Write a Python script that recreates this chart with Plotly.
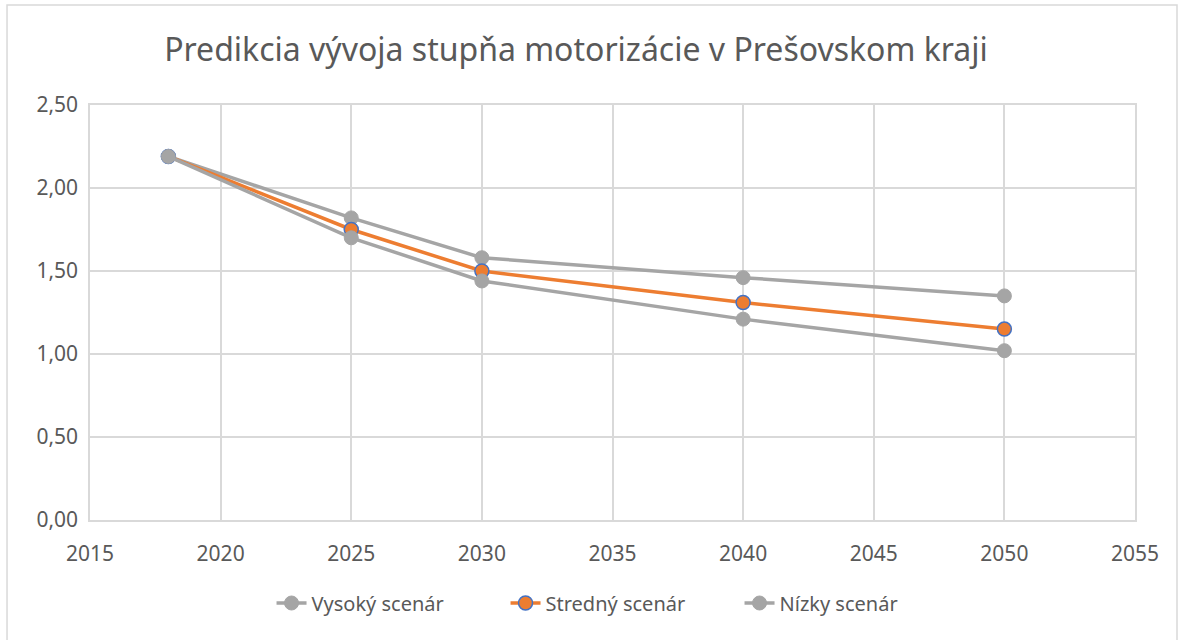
import plotly.graph_objects as go

years = [2018, 2025, 2030, 2040, 2050]
vysoky = [2.19, 1.82, 1.58, 1.46, 1.35]
stredny = [2.19, 1.75, 1.50, 1.31, 1.15]
nizky = [2.19, 1.70, 1.44, 1.21, 1.02]

title = "Predikcia vývoja stupňa motorizácie v Prešovskom kraji"
series_names = ["Vysoký scenár", "Stredný scenár", "Nízky scenár"]

GRAY = "#a5a5a5"
ORANGE = "#ed7d31"
BLUE = "#4472c4"
TEXT = "#595959"
GRID = "#d9d9d9"
FONT = "Noto Sans"

fig = go.Figure()
fig.add_trace(go.Scatter(
    x=years, y=vysoky, name=series_names[0], mode="lines+markers",
    line=dict(color=GRAY, width=3.5),
    marker=dict(color=GRAY, size=14, line=dict(color=GRAY, width=1)),
))
fig.add_trace(go.Scatter(
    x=years, y=stredny, name=series_names[1], mode="lines+markers",
    line=dict(color=ORANGE, width=3.5),
    marker=dict(color=ORANGE, size=14, line=dict(color=BLUE, width=1.5)),
))
fig.add_trace(go.Scatter(
    x=years, y=nizky, name=series_names[2], mode="lines+markers",
    line=dict(color=GRAY, width=3.5),
    marker=dict(color=GRAY, size=14, line=dict(color=GRAY, width=1)),
))

fig.update_layout(
    width=1184, height=640,
    margin=dict(l=90, r=49, t=105, b=120),
    paper_bgcolor="white", plot_bgcolor="white",
    separators=", ",
    font=dict(family=FONT, size=20, color=TEXT),
    title=dict(text=title, x=0.4865, xanchor="center", y=0.922, yanchor="middle",
               font=dict(family=FONT, size=32, color=TEXT)),
    showlegend=True,
    legend=dict(orientation="h", x=0.5096, xanchor="center", y=-0.2, yanchor="middle",
                font=dict(family=FONT, size=20, color=TEXT),
                entrywidth=189, entrywidthmode="pixels", traceorder="normal"),
    xaxis=dict(range=[2015, 2055], tick0=2015, dtick=5, showgrid=True,
               gridcolor=GRID, gridwidth=1.5, showline=True, linecolor=GRID,
               linewidth=1.5, mirror=True, zeroline=False, ticks="",
               tickfont=dict(size=21), ticklabelstandoff=14),
    yaxis=dict(range=[0, 2.5], tick0=0, dtick=0.5, tickformat=".2f",
               showgrid=True, gridcolor=GRID, gridwidth=1.5, showline=True,
               linecolor=GRID, linewidth=1.5, mirror=True, zeroline=False,
               ticks="", tickfont=dict(size=21), ticklabelstandoff=6),
)

# Outer chart frame
fig.add_shape(type="rect", xref="paper", yref="paper",
              x0=-0.0794, x1=1.0402, y0=-0.31, y1=1.241,
              line=dict(color=GRID, width=1.5), fillcolor="rgba(0,0,0,0)",
              layer="below")

fig.write_html("out.html")
